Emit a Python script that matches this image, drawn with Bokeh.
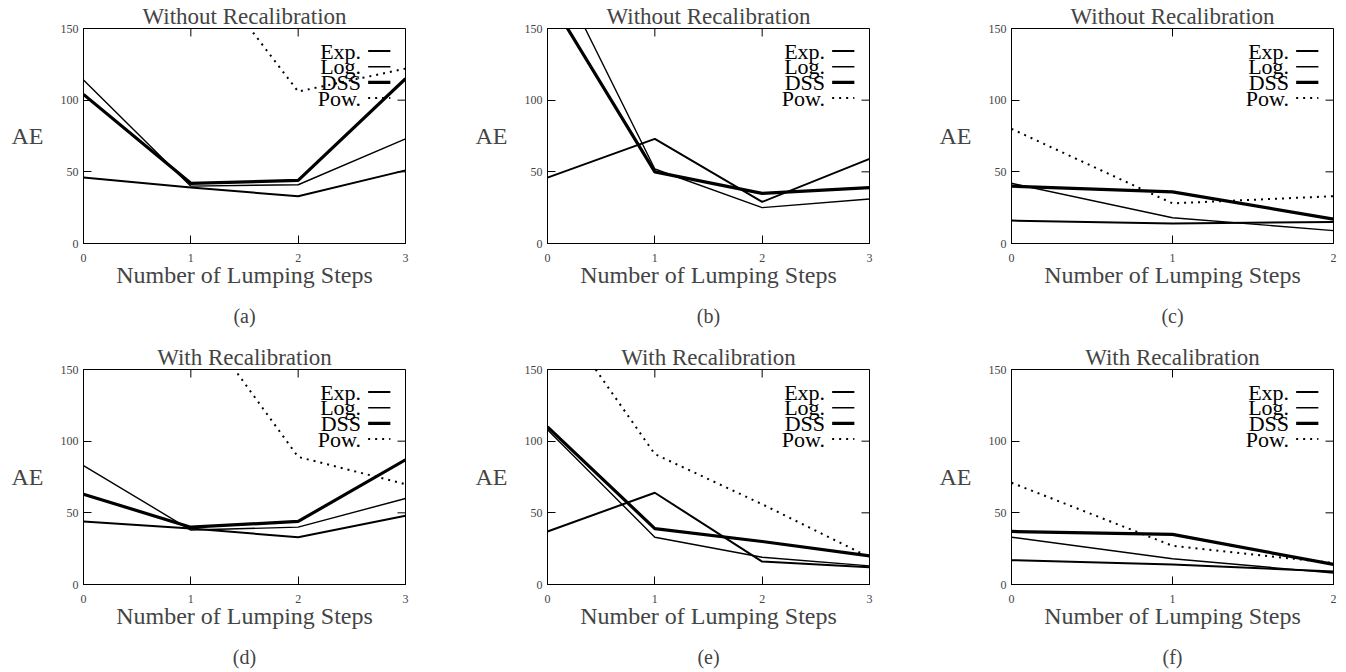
from bokeh.plotting import figure
from bokeh.models import Range1d, Title, FixedTicker
from bokeh.layouts import column, row
from bokeh.core.properties import value
from bokeh.embed import file_html
from bokeh.resources import INLINE

nan = float("nan")

# ---------- data ----------
steps4 = [0, 1, 2, 3]
steps3 = [0, 1, 2]

a_exp = [46, 39, 33, 51]
a_log = [114, 40, 41, 73]
a_dss = [104, 42, 44, 115]
a_pow = [290, 204, 106, 122]

b_exp = [46, 73, 29, 59]
b_log = [203, 52, 25, 31]
b_dss = [173, 50, 35, 39]
b_pow = [nan, nan, nan, nan]

c_exp = [16, 14, 15]
c_log = [42, 18, 9]
c_dss = [40, 36, 17]
c_pow = [80, 28, 33]

d_exp = [44, 39, 33, 48]
d_log = [83, 38, 40, 60]
d_dss = [63, 40, 44, 87]
d_pow = [280, 192, 89, 70]

e_exp = [37, 64, 16, 12]
e_log = [108, 33, 19, 13]
e_dss = [110, 39, 30, 20]
e_pow = [198, 91, 56, 19]

f_exp = [17, 14, 9]
f_log = [33, 18, 8]
f_dss = [37, 35, 14]
f_pow = [71, 27, 15]

series_names = ["Exp.", "Log.", "DSS", "Pow."]
y_ticks = [0, 50, 100, 150]
top_title = "Without Recalibration"
bottom_title = "With Recalibration"
x_label = "Number of Lumping Steps"
y_label = "AE"

FONT = "Liberation Serif"
STYLES = [
    dict(line_color="black", line_width=2.0),
    dict(line_color="black", line_width=1.4),
    dict(line_color="black", line_width=3.2),
    dict(line_color="black", line_width=2.0, line_dash="2 5"),
]
FW, FH = 322, 215
TICK = 8


def panel(title, caption, xs, ys_list, right_border, bottom_border):
    xmax = xs[-1]
    p = figure(frame_width=FW, frame_height=FH,
               x_range=Range1d(0, xmax), y_range=Range1d(0, 150),
               output_backend="svg", toolbar_location=None,
               min_border_left=83, min_border_right=right_border,
               min_border_top=28, min_border_bottom=bottom_border,
               background_fill_color="white", border_fill_color="white")
    p.outline_line_color = "black"
    p.outline_line_width = 1
    p.grid.visible = False

    p.title.text = title
    p.title.align = "center"
    p.title.text_font = FONT
    p.title.text_font_size = "23px"
    p.title.text_font_style = "normal"
    p.title.standoff = 0

    for ax in (p.xaxis[0], p.yaxis[0]):
        ax.major_tick_in = TICK
        ax.major_tick_out = 0
        ax.minor_tick_line_color = None
        ax.axis_line_color = "black"
        ax.major_label_text_font = FONT
        ax.major_label_text_font_size = "12px"
        ax.axis_label_text_font = FONT
        ax.axis_label_text_font_size = "24px"
        ax.axis_label_text_font_style = "normal"
    p.xaxis[0].ticker = FixedTicker(ticks=list(xs))
    p.yaxis[0].ticker = FixedTicker(ticks=y_ticks)
    p.xaxis[0].axis_label = x_label
    p.xaxis[0].major_label_standoff = 10
    p.xaxis[0].axis_label_standoff = -3
    p.yaxis[0].axis_label = y_label
    p.yaxis[0].axis_label_orientation = "horizontal"
    p.yaxis[0].major_label_standoff = 5
    p.yaxis[0].axis_label_standoff = 14

    # mirrored inward ticks on the top and right frame edges
    dy = TICK * 150 / FH
    dx = TICK * xmax / FW
    p.segment(x0=list(xs), y0=[150] * len(xs), x1=list(xs), y1=[150 - dy] * len(xs),
              line_color="black", line_width=1)
    p.segment(x0=[xmax] * len(y_ticks), y0=y_ticks, x1=[xmax - dx] * len(y_ticks), y1=y_ticks,
              line_color="black", line_width=1)

    for ys, st in zip(ys_list, STYLES):
        p.line(xs, ys, **st)

    # gnuplot-style key: text right-aligned, sample to the right
    for k, (name, st) in enumerate(zip(series_names, STYLES)):
        yk = 150 - (22.5 + 15.7 * k) * 150 / FH
        p.text(x=[xmax * 0.862], y=[yk], text=[name], text_align="right",
               text_baseline="middle", text_font=value(FONT), text_font_size="22px",
               text_color="black")
        p.segment(x0=[xmax * 0.884], y0=[yk], x1=[xmax * 0.953], y1=[yk], **st)

    cap = Title(text=caption, align="center", text_font=FONT, text_font_size="20px",
                text_font_style="normal", standoff=25)
    p.add_layout(cap, "below")
    return p


pa = panel(top_title, "(a)", steps4, [a_exp, a_log, a_dss, a_pow], 59, 98)
pb = panel(top_title, "(b)", steps4, [b_exp, b_log, b_dss, b_pow], 59, 98)
pc = panel(top_title, "(c)", steps3, [c_exp, c_log, c_dss, c_pow], 8, 98)
pd = panel(bottom_title, "(d)", steps4, [d_exp, d_log, d_dss, d_pow], 59, 88)
pe = panel(bottom_title, "(e)", steps4, [e_exp, e_log, e_dss, e_pow], 59, 88)
pf = panel(bottom_title, "(f)", steps3, [f_exp, f_log, f_dss, f_pow], 8, 88)

layout = column(row(pa, pb, pc, spacing=0), row(pd, pe, pf, spacing=0), spacing=0)

open("out.html", "w").write(file_html(layout, INLINE))
